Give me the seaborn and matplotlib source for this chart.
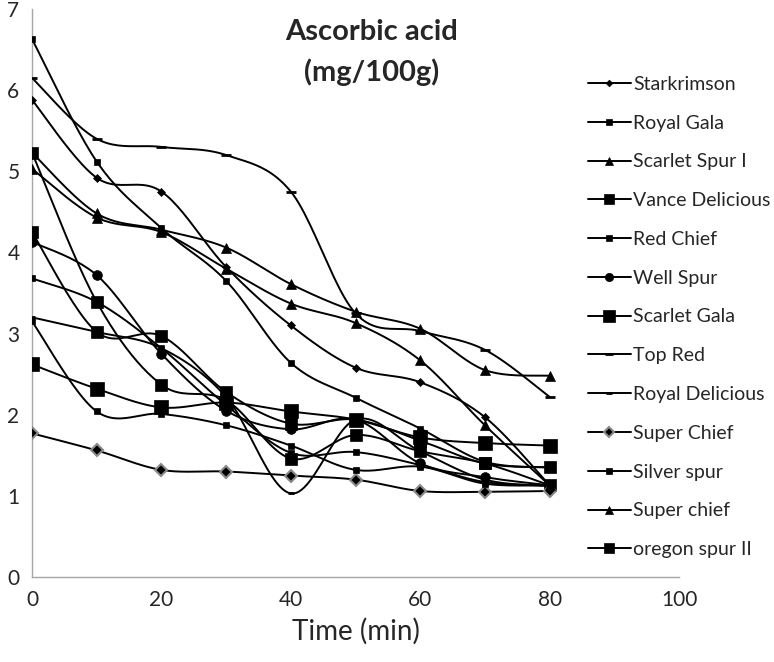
import numpy as np
import pandas as pd
import matplotlib
matplotlib.use("Agg")
import matplotlib.pyplot as plt
from matplotlib.lines import Line2D
import seaborn as sns

# time points (min)
time_min = [0, 10, 20, 30, 40, 50, 60, 70, 80]

# ascorbic acid (mg/100g)
starkrimson = [5.88, 4.92, 4.75, 3.82, 3.10, 2.58, 2.40, 1.97, 1.13]
royal_gala = [6.63, 5.12, 4.30, 3.65, 2.64, 2.21, 1.83, 1.42, 1.35]
scarlet_spur_i = [5.23, 4.48, 4.28, 4.06, 3.61, 3.27, 3.06, 2.55, 2.48]
vance_delicious = [5.23, 3.39, 2.37, 2.18, 1.46, 1.75, 1.55, 1.40, 1.13]
red_chief = [3.68, 3.39, 2.82, 2.12, 1.53, 1.54, 1.38, 1.17, 1.13]
well_spur = [4.13, 3.72, 2.75, 2.05, 1.82, 1.94, 1.40, 1.23, 1.13]
scarlet_gala = [2.62, 2.32, 2.09, 2.15, 2.04, 1.94, 1.72, 1.65, 1.62]
top_red = [6.15, 5.40, 5.30, 5.20, 4.75, 3.25, 3.03, 2.80, 2.22]
royal_delicious = [3.20, 3.02, 2.82, 2.22, 1.03, 1.94, 1.55, 1.20, 1.12]
super_chief = [1.77, 1.56, 1.32, 1.30, 1.25, 1.20, 1.06, 1.05, 1.06]
silver_spur = [3.15, 2.04, 2.01, 1.87, 1.62, 1.32, 1.36, 1.15, 1.13]
super_chief_2 = [5.03, 4.43, 4.25, 3.80, 3.37, 3.13, 2.67, 1.87, 1.13]
oregon_spur_ii = [4.25, 3.02, 2.97, 2.28, 1.89, 1.94, 1.68, 1.40, 1.35]

names = ["Starkrimson", "Royal Gala", "Scarlet Spur I", "Vance Delicious",
         "Red Chief", "Well Spur", "Scarlet Gala", "Top Red",
         "Royal Delicious", "Super Chief", "Silver spur", "Super chief",
         "oregon spur II"]
values = [starkrimson, royal_gala, scarlet_spur_i, vance_delicious, red_chief,
          well_spur, scarlet_gala, top_red, royal_delicious, super_chief,
          silver_spur, super_chief_2, oregon_spur_ii]

# marker style per series: (marker, size, face, edge)
styles = [("D", 4, "black", "black"), ("s", 5, "black", "black"),
          ("^", 7, "black", "black"), ("s", 8, "black", "black"),
          ("s", 5, "black", "black"), ("o", 7, "black", "black"),
          ("s", 10, "black", "black"), ("_", 7, "black", "black"),
          ("_", 5, "black", "black"), ("D", 6, "black", "#8a8a8a"),
          ("s", 5, "black", "black"), ("^", 7, "black", "black"),
          ("s", 8, "black", "black")]

df = pd.DataFrame([(n, t, v) for n, vals in zip(names, values)
                   for t, v in zip(time_min, vals)],
                  columns=["variety", "time", "value"])


def smooth(x, y, n=25):
    # excel style smoothed line (bezier through the points)
    x = np.asarray(x, float)
    y = np.asarray(y, float)
    P = np.column_stack([x, y])
    P = np.vstack([P[0], P, P[-1]])
    out = []
    t = np.linspace(0, 1, n)[:, None]
    for i in range(1, len(P) - 2):
        p0, p1, p2, p3 = P[i - 1], P[i], P[i + 1], P[i + 2]
        c1 = p1 + (p2 - p0) / 6
        c2 = p2 - (p3 - p1) / 6
        b = ((1 - t) ** 3) * p1 + 3 * ((1 - t) ** 2) * t * c1 + 3 * (1 - t) * t ** 2 * c2 + t ** 3 * p2
        out.append(b if i == 1 else b[1:])
    out = np.vstack(out)
    return out[:, 0], out[:, 1]


sns.set_style("white")
plt.rcParams["font.family"] = ["Lato", "DejaVu Sans"]

fig = plt.figure(figsize=(7.74, 6.62), dpi=100)
ax = fig.add_axes([32 / 774, 1 - 577 / 662, 647 / 774, 568 / 662])

handles = []
for name, (m, ms, fc, ec) in zip(names, styles):
    sub = df[df["variety"] == name]
    xs, ys = smooth(sub["time"], sub["value"])
    sns.lineplot(x=xs, y=ys, ax=ax, color="black", lw=1.4, sort=False)
    mew = 2.0 if m == "_" else (1.5 if ec != "black" else 0.5)
    ax.plot(sub["time"], sub["value"], ls="none", marker=m, ms=ms,
            mfc=fc, mec=ec, mew=mew, zorder=3)
    handles.append(Line2D([], [], color="black", lw=1.4, marker=m,
                          ms=ms * 0.85, mfc=fc, mec=ec, mew=mew, label=name))

ax.set_xlim(0, 100)
ax.set_ylim(0, 7)
ax.set_xticks([0, 20, 40, 60, 80, 100])
ax.set_yticks(range(0, 8))
ax.set_xlabel("Time (min)", fontsize=20, labelpad=6)
ax.set_ylabel("")
for s in ["top", "right"]:
    ax.spines[s].set_visible(False)
for s in ["left", "bottom"]:
    ax.spines[s].set_color("#a6a6a6")
    ax.spines[s].set_linewidth(1)
ax.tick_params(axis="both", which="major", labelsize=15, direction="out",
               length=5, width=1, color="#a6a6a6", pad=4)
ax.margins(0)

fig.text(372 / 774, 1 - 32 / 662, "Ascorbic acid", ha="center", va="center",
         fontsize=21, fontweight="bold")
fig.text(372 / 774, 1 - 72 / 662, "(mg/100g)", ha="center", va="center",
         fontsize=21, fontweight="bold")

fig.legend(handles=handles, loc="upper left",
           bbox_to_anchor=(580 / 774, 1 - 68 / 662), frameon=False,
           fontsize=14, labelspacing=1.12, handlelength=2.2,
           handletextpad=0.15, borderaxespad=0)

fig.savefig("out.png", dpi=100)
